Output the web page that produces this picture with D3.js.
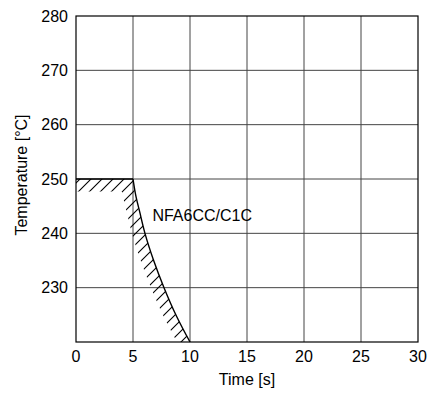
<!DOCTYPE html>
<html>
<head>
<meta charset="utf-8">
<script src="https://cdn.jsdelivr.net/npm/d3@7"></script>
<style>
  body { margin: 0; background: #fff; }
  svg text { font-family: "Liberation Sans", Arial, sans-serif; fill: #000; }
</style>
</head>
<body>
<div id="chart"></div>
<script>
// data
var xTicks = [0, 5, 10, 15, 20, 25, 30];
var yTicks = [230, 240, 250, 260, 270, 280];
var xDomain = [0, 30];
var yDomain = [220, 280];

// limit curve NFA6CC/C1C
var curveTime = [5, 5.26, 5.61, 6.05, 6.78, 7.72, 8.83, 10];
var curveTemp = [250, 246.8, 243.75, 240, 235.2, 230, 224.7, 220];
// flat part of the limit before the drop
var plateauTime = [0, 5];
var plateauTemp = [250, 250];
var curveLabel = "NFA6CC/C1C";
var labelAt = [6.7, 242.3];

var W = 433, H = 394;
var margin = {top: 16, right: 15, bottom: 52, left: 76};
var width = W - margin.left - margin.right,
    height = H - margin.top - margin.bottom;

var svg = d3.select("#chart").append("svg")
  .attr("width", W)
  .attr("height", H);

var defs = svg.append("defs");

var x = d3.scaleLinear().domain(xDomain).range([0, width]);
var y = d3.scaleLinear().domain(yDomain).range([height, 0]);

var g = svg.append("g")
  .attr("transform", "translate(" + margin.left + "," + margin.top + ")");

// hatch pattern
var hatch = defs.append("pattern")
  .attr("id", "hatch")
  .attr("patternUnits", "userSpaceOnUse")
  .attr("x", 2)
  .attr("width", 11)
  .attr("height", 11);
hatch.append("path")
  .attr("d", "M0,11 L11,0 M-2,2 L2,-2 M9,13 L13,9")
  .attr("stroke", "#000")
  .attr("stroke-width", 1.1);

// grid
g.selectAll(".vgrid")
  .data(xTicks.slice(1, -1))
  .enter().append("line")
  .attr("x1", function(d) { return x(d); })
  .attr("x2", function(d) { return x(d); })
  .attr("y1", 0)
  .attr("y2", height)
  .attr("stroke", "#444")
  .attr("stroke-width", 1);

g.selectAll(".hgrid")
  .data(yTicks.slice(0, -1))
  .enter().append("line")
  .attr("x1", 0)
  .attr("x2", width)
  .attr("y1", function(d) { return y(d); })
  .attr("y2", function(d) { return y(d); })
  .attr("stroke", "#444")
  .attr("stroke-width", 1);

var pts = curveTime.map(function(t, i) { return {t: t, v: curveTemp[i]}; });

// hatched band just inside (left of / below) the limit
var clip = defs.append("clipPath").attr("id", "band");
clip.append("rect")
  .attr("x", x(plateauTime[0]))
  .attr("y", y(plateauTemp[0]))
  .attr("width", x(plateauTime[1]) - x(plateauTime[0]))
  .attr("height", 12.5);
clip.append("path")
  .attr("d", d3.area()
    .curve(d3.curveNatural)
    .y(function(d) { return y(d.v); })
    .x0(function(d) { return x(d.t) - 13; })
    .x1(function(d) { return x(d.t); })(pts));

defs.append("clipPath").attr("id", "plotArea")
  .append("rect")
  .attr("width", width)
  .attr("height", height);

g.append("g")
  .attr("clip-path", "url(#plotArea)")
  .append("rect")
  .attr("clip-path", "url(#band)")
  .attr("x", 0)
  .attr("y", 0)
  .attr("width", width)
  .attr("height", height)
  .attr("fill", "url(#hatch)");

// limit line
g.append("line")
  .attr("x1", x(plateauTime[0]))
  .attr("x2", x(plateauTime[1]))
  .attr("y1", y(plateauTemp[0]))
  .attr("y2", y(plateauTemp[1]))
  .attr("stroke", "#000")
  .attr("stroke-width", 1.4);

g.append("path")
  .datum(pts)
  .attr("fill", "none")
  .attr("stroke", "#000")
  .attr("stroke-width", 1.4)
  .attr("d", d3.line()
    .curve(d3.curveNatural)
    .x(function(d) { return x(d.t); })
    .y(function(d) { return y(d.v); }));

g.append("text")
  .attr("x", x(labelAt[0]))
  .attr("y", y(labelAt[1]))
  .attr("font-size", "16px")
  .text(curveLabel);

// frame
g.append("rect")
  .attr("width", width)
  .attr("height", height)
  .attr("fill", "none")
  .attr("stroke", "#000")
  .attr("stroke-width", 1.2);

// tick labels
g.selectAll(".xlab")
  .data(xTicks)
  .enter().append("text")
  .attr("x", function(d) { return x(d); })
  .attr("y", height + 20)
  .attr("text-anchor", "middle")
  .attr("font-size", "16px")
  .text(function(d) { return d; });

g.selectAll(".ylab")
  .data(yTicks)
  .enter().append("text")
  .attr("x", -8)
  .attr("y", function(d) { return y(d); })
  .attr("dy", "0.35em")
  .attr("text-anchor", "end")
  .attr("font-size", "16px")
  .text(function(d) { return d; });

// axis titles
svg.append("text")
  .attr("x", margin.left + width / 2)
  .attr("y", 385)
  .attr("text-anchor", "middle")
  .attr("font-size", "16px")
  .text("Time [s]");

svg.append("text")
  .attr("transform", "translate(27," + 175 + ") rotate(-90)")
  .attr("text-anchor", "middle")
  .attr("font-size", "16px")
  .text("Temperature [\u00B0C]");
</script>
</body>
</html>
